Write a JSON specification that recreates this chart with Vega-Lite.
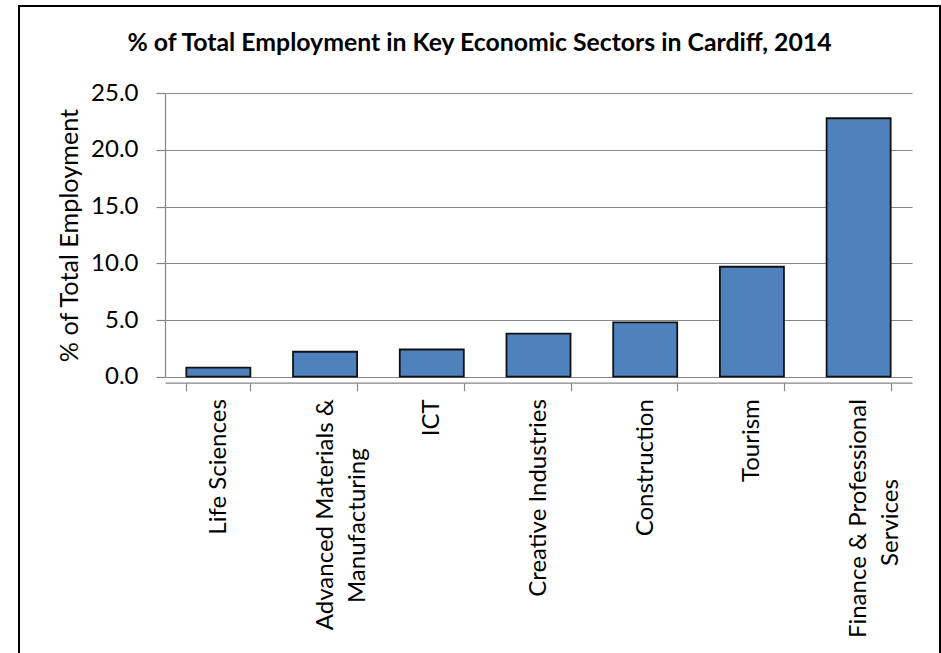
{
  "$schema": "https://vega.github.io/schema/vega-lite/v6.json",
  "autosize": "none",
  "width": 921,
  "height": 670,
  "padding": {"left": 19, "top": 6, "right": 1, "bottom": 0},
  "background": "white",
  "title": {
    "text": "% of Total Employment in Key Economic Sectors in Cardiff, 2014",
    "font": "Lato",
    "fontSize": 24.8,
    "fontWeight": "bold",
    "color": "black",
    "anchor": "middle",
    "baseline": "alphabetic",
    "offset": -70
  },
  "data": {
    "values": [
      {"sector": "Life Sciences", "pct": 0.8},
      {"sector": "Advanced Materials & Manufacturing", "pct": 2.2},
      {"sector": "ICT", "pct": 2.4},
      {"sector": "Creative Industries", "pct": 3.8},
      {"sector": "Construction", "pct": 4.8},
      {"sector": "Tourism", "pct": 9.7},
      {"sector": "Finance & Professional Services", "pct": 22.8}
    ]
  },
  "mark": {"type": "bar", "fill": "#4F81BD", "stroke": "#111111", "strokeWidth": 1.8},
  "encoding": {
    "x": {
      "field": "sector",
      "type": "nominal",
      "sort": null,
      "scale": {"range": [146, 893], "paddingInner": 0.4, "paddingOuter": 0.2},
      "axis": {
        "title": null,
        "offset": -293.3,
        "domainColor": "#868686",
        "domainWidth": 1.2,
        "tickColor": "#868686",
        "tickWidth": 1.2,
        "tickSize": 8,
        "tickBand": "extent",
        "labelAngle": -90,
        "labelAlign": "right",
        "labelBaseline": "middle",
        "labelPadding": 8,
        "labelFont": "Lato",
        "labelFontSize": 24,
        "labelColor": "black",
        "labelLineHeight": 32,
        "labelLimit": 400,
        "labelExpr": "datum.label == 'Advanced Materials & Manufacturing' ? ['Advanced Materials &', 'Manufacturing\u00a0\u00a0\u00a0\u00a0\u00a0\u00a0\u00a0\u00a0\u200b'] : datum.label == 'Finance & Professional Services' ? ['Finance & Professional', 'Services\u00a0\u00a0\u00a0\u00a0\u00a0\u00a0\u00a0\u00a0\u00a0\u00a0\u00a0\u00a0\u00a0\u200b'] : datum.label"
      }
    },
    "y": {
      "field": "pct",
      "type": "quantitative",
      "scale": {"domain": [0, 25], "range": [370.7, 87.3], "nice": false, "zero": true},
      "axis": {
        "title": "% of Total Employment",
        "offset": -146,
        "values": [0, 5, 10, 15, 20, 25],
        "format": ".1f",
        "grid": true,
        "gridColor": "#868686",
        "gridWidth": 1.2,
        "domainColor": "#868686",
        "domainWidth": 1.2,
        "tickColor": "#868686",
        "tickWidth": 1.2,
        "tickSize": 9,
        "labelPadding": 18,
        "labelFont": "Lato",
        "labelFontSize": 24,
        "labelColor": "black",
        "titleFont": "Lato",
        "titleFontSize": 25.2,
        "titleFontWeight": "normal",
        "titleColor": "black",
        "titlePadding": 8
      }
    }
  },
  "config": {
    "view": {"stroke": "black", "strokeWidth": 2}
  }
}
